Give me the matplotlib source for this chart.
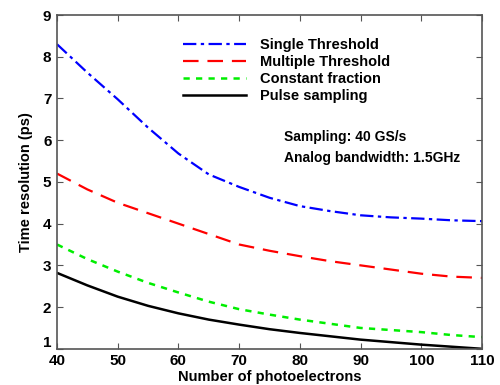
import numpy as np
import matplotlib.pyplot as plt
import matplotlib.transforms as mtrans

plt.rcParams['font.family'] = ['Liberation Sans', 'DejaVu Sans']
plt.rcParams['font.weight'] = 'bold'

# data
n_pe = [40, 45, 50, 55, 60, 65, 70, 75, 80, 85, 90, 95, 100, 105, 110]
single_thr = [8.3, 7.62, 6.98, 6.3, 5.68, 5.18, 4.88, 4.62, 4.42, 4.3, 4.2, 4.15, 4.12, 4.08, 4.06]
multi_thr = [5.2, 4.82, 4.5, 4.25, 4.0, 3.75, 3.5, 3.35, 3.22, 3.1, 3.0, 2.9, 2.8, 2.73, 2.7]
const_frac = [3.5, 3.15, 2.85, 2.58, 2.35, 2.13, 1.95, 1.82, 1.7, 1.6, 1.5, 1.45, 1.4, 1.33, 1.28]
pulse_samp = [2.82, 2.52, 2.25, 2.03, 1.85, 1.7, 1.58, 1.47, 1.38, 1.3, 1.22, 1.16, 1.1, 1.05, 1.0]

fig = plt.figure(figsize=(5, 3.85), dpi=100)
ax = fig.add_axes([0.114, 0.094, 0.85, 0.867])

ax.plot(n_pe, single_thr, color='#0000ff', lw=1.6, dashes=[6, 2, 1.5, 2], label='Single Threshold')
ax.plot(n_pe, multi_thr, color='#ff0000', lw=1.6, dashes=[7, 4], label='Multiple Threshold')
ax.plot(n_pe, const_frac, color='#00ee00', lw=1.8, dashes=[2.5, 2.5], label='Constant fraction')
ax.plot(n_pe, pulse_samp, color='#000000', lw=1.8, label='Pulse sampling')

ax.set_xlim(40, 110)
ax.set_ylim(1, 9)
ax.set_xticks([40, 50, 60, 70, 80, 90, 100, 110])
ax.set_yticks(range(1, 10))
ax.tick_params(direction='in', top=True, right=True, labelsize=11, length=4, color='#555555')
ax.tick_params(axis='x', pad=4)
ax.tick_params(axis='y', pad=4)
for sp in ax.spines.values():
    sp.set_color('#555555')
    sp.set_linewidth(1.2)

# nudge the bottom y label up a little so it clears the "40"
fig.canvas.draw()
lbl = ax.get_yticklabels()[0]
lbl.set_transform(lbl.get_transform() + mtrans.ScaledTranslation(0, 5 / 72, fig.dpi_scale_trans))

ax.set_xlabel('Number of photoelectrons', fontsize=10.5, fontweight='bold', labelpad=1)
ax.set_ylabel('Time resolution (ps)', fontsize=10.5, fontweight='bold', labelpad=7)

ax.legend(loc='upper left', bbox_to_anchor=(0.296, 0.931), frameon=False, fontsize=10.5,
          handlelength=4.3, handletextpad=1.0, labelspacing=0.2, borderaxespad=0, borderpad=0)

ax.text(0.534, 0.635, 'Sampling: 40 GS/s', transform=ax.transAxes, fontsize=10, fontweight='bold', va='center')
ax.text(0.534, 0.572, 'Analog bandwidth: 1.5GHz', transform=ax.transAxes, fontsize=10, fontweight='bold', va='center')

fig.savefig('out.png', dpi=100)
